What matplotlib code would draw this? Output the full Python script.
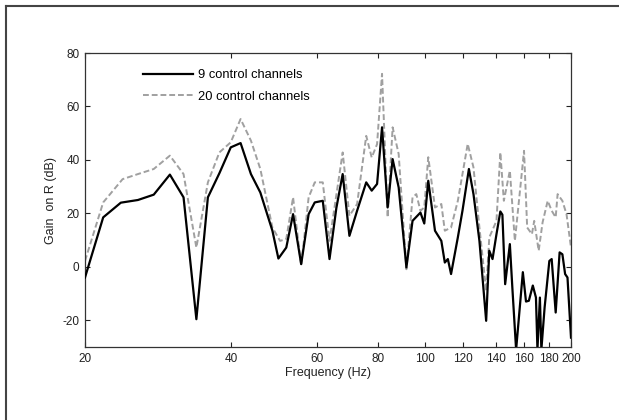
import matplotlib
matplotlib.use("Agg")
import matplotlib.pyplot as plt
from matplotlib.lines import Line2D
import numpy as np

plt.rcParams['font.family'] = ['Liberation Sans', 'DejaVu Sans']
plt.rcParams['axes.unicode_minus'] = False

# 9 control channels (black solid)
f9 = [20, 21.8, 23.7, 25.7, 27.7, 29.9, 31.9, 33.9, 35.8, 37.8, 39.9, 41.8, 43.9, 45.9,
      48.6, 50.0, 51.9, 53.6, 55.7, 57.7, 59.4, 61.7, 63.7, 65.8, 67.8, 70.0, 72.6, 75.8,
      77.8, 79.8, 81.7, 83.9, 85.9, 88.4, 91.7, 94.4, 98.0, 99.8, 101.7, 105.0, 108.2,
      110.0, 111.6, 113.3, 117.0, 119.6, 123.3, 126.0, 129.6, 133.8, 135.8, 137.9, 140.5,
      143.1, 144.5, 146.4, 149.7, 151.5, 154.2, 159.2, 161.6, 163.8, 166.9, 169.4, 170.6,
      172.6, 173.8, 176.5, 180.5, 182.5, 186.0, 189.5, 192.0, 194.5, 196.7, 200]
g9 = [-4, 18.5, 24, 25, 27, 34.5, 26, -19.6, 26, 35, 44.7, 46.3, 34.7, 27.8,
      13.5, 3.1, 7.2, 19.7, 1, 19.7, 24.1, 24.7, 2.9, 22, 34.7, 11.6, 21, 31.6,
      28.5, 31, 52.2, 22.2, 40.3, 29.7, -0.2, 17.2, 20.3, 16.2, 32.2, 13.5, 9.7,
      1.6, 2.9, -2.7, 11, 21, 36.6, 27.2, 9.7, -20.2, 6, 2.9, 12.2,
      20.7, 19.5, -6.5, 8.5, -8, -31, -2, -13, -12.7, -7, -11.5, -31,
      -11.5, -31, -15.2, 2.2, 2.9, -17.1, 5.4, 4.7, -2.7, -4, -26.5]

# 20 control channels (grey dashed)
f20 = [20, 21.8, 23.9, 25.7, 27.7, 29.9, 31.9, 33.9, 35.8, 37.8, 39.9, 41.8, 43.9, 45.9,
       48.6, 50.4, 51.9, 53.6, 55.7, 57.7, 59.4, 61.7, 63.7, 67.8, 70.0, 72.6, 75.8, 77.8,
       79.8, 81.7, 83.9, 85.9, 88.4, 91.7, 94.4, 96.1, 98.0, 99.8, 101.7, 105.0, 108.2,
       110.0, 113.3, 117.0, 122.6, 126.0, 129.6, 133.8, 135.8, 140.5, 143.1, 145.5, 149.7,
       153.3, 160.1, 162.5, 166.2, 168.0, 171.6, 174.8, 179.1, 182.5, 186.0, 187.7, 192.0,
       195.8, 200]
g20 = [2.2, 24.1, 32.8, 34.7, 36.6, 41.6, 34.7, 7.2, 31.6, 42.8, 46.6, 55.3, 47.2, 36.6,
       14.7, 9.7, 10.4, 26, 0.4, 26, 31.6, 31.6, 9.7, 42.8, 19.1, 23.5, 49, 40.9,
       45.9, 72.2, 18.5, 52.2, 42.2, -0.9, 26, 27.2, 21, 22.2, 41, 22.2, 23.5,
       13.5, 14.7, 24.7, 46, 37.2, 14.7, -9, 11, 17.2, 42.8, 24.7, 36,
       9.7, 43.4, 14.7, 12.2, 17.2, 6, 16.6, 24.7, 21, 18.5, 27.2, 24.7,
       19.7, 7.2]

xticks = [20, 40, 60, 80, 100, 120, 140, 160, 180, 200]
yticks = [-20, 0, 20, 40, 60, 80]

fig = plt.figure(figsize=(6.19, 4.2), dpi=100)
ax = fig.add_axes([85/619, 73/420, 486/619, 294/420])

ax.plot(f9, g9, color='black', lw=1.6, label='9 control channels', zorder=3)
ax.plot(f20, g20, color='#a0a0a0', lw=1.4, ls=(0, (3, 1.5)), label='20 control channels', zorder=2)

ax.set_xscale('log')
ax.set_xlim(20, 200)
ax.set_ylim(-30, 80)
ax.set_xticks(xticks)
ax.set_xticklabels([str(t) for t in xticks])
ax.xaxis.set_minor_locator(matplotlib.ticker.NullLocator())
ax.set_yticks(yticks)
ax.tick_params(direction='in', top=True, right=True, length=3.5, labelsize=8.5,
               colors='#222222', pad=4)
for s in ax.spines.values():
    s.set_linewidth(0.9)
    s.set_color('#333333')

ax.set_xlabel('Frequency (Hz)', fontsize=9, color='#222222', labelpad=2)
ax.set_ylabel('Gain  on R (dB)', fontsize=9, color='#222222', labelpad=4)

ax.legend(loc='upper left', bbox_to_anchor=(0.095, 0.985), frameon=False, fontsize=9.3,
          handlelength=3.9, handletextpad=0.4, labelspacing=0.75)

# figure border (top and left edges only)
fig.add_artist(Line2D([6/619, 1], [1 - 6/420, 1 - 6/420], transform=fig.transFigure,
                      color='#444444', lw=1.5))
fig.add_artist(Line2D([6/619, 6/619], [0, 1 - 6/420], transform=fig.transFigure,
                      color='#444444', lw=1.5))

fig.savefig('out.png', dpi=100, facecolor='white')
